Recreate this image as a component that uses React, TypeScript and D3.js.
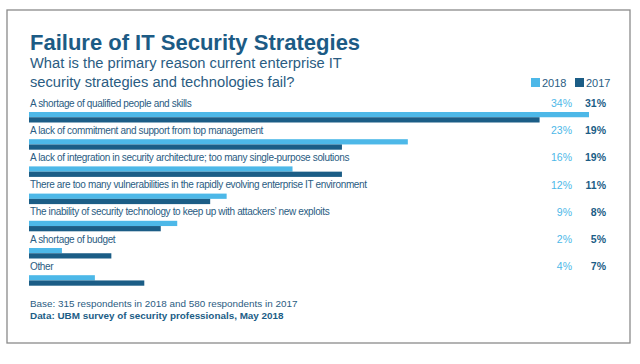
import React from "react"
import * as d3 from "d3"

const categories = [
  "A shortage of qualified people and skills",
  "A lack of commitment and support from top management",
  "A lack of integration in security architecture; too many single-purpose solutions",
  "There are too many vulnerabilities in the rapidly evolving enterprise IT environment",
  "The inability of security technology to keep up with attackers\u2019 new exploits",
  "A shortage of budget",
  "Other",
]
const years = ["2018", "2017"]
const values2018 = [34, 23, 16, 12, 9, 2, 4]
const values2017 = [31, 19, 19, 11, 8, 5, 7]

const light = "#4db8e8"
const dark = "#1b5d86"
const textBlue = "#2a5c82"
const font = "'Liberation Sans', Arial, Helvetica, sans-serif"

const App: React.FC = () => {
  const width = 640
  const height = 364

  const y = d3.scaleBand<string>().domain(categories).range([93, 93 + 27.2 * categories.length])
  const inner = d3.scaleBand<string>().domain(years).range([19, 29.5])
  const x = d3.scaleLinear().domain([0, 34]).range([29, 589])
  const color = d3.scaleOrdinal<string, string>().domain(years).range([light, dark])

  const series = [values2018, values2017]

  return (
    <div style={{ position: "absolute", left: 0, top: 0 }}>
      <svg width={width} height={height} style={{ display: "block", background: "#fff" }} fontFamily={font}>
        <rect x={7} y={10} width={623} height={333} fill="#fff" stroke="#8a8a8a" strokeWidth={1.3} />

        <text x={30} y={50} fontSize={22} fontWeight="bold" fill="#1c5b85">
          Failure of IT Security Strategies
        </text>
        <text x={30} y={68} fontSize={14.7} fill={textBlue}>
          What is the primary reason current enterprise IT
        </text>
        <text x={30} y={87} fontSize={14.7} fill={textBlue}>
          security strategies and technologies fail?
        </text>

        {years.map((yr, i) => (
          <g key={yr} transform={`translate(${i === 0 ? 531 : 575},0)`}>
            <rect x={0} y={78} width={9} height={9} fill={color(yr)} />
            <text x={11} y={87} fontSize={11} fill={textBlue}>
              {yr}
            </text>
          </g>
        ))}

        {categories.map((c, i) => {
          const top = y(c) ?? 0
          return (
            <g key={c}>
              <text x={30} y={top + 13.5} fontSize={10} fill={textBlue} letterSpacing={-0.35}>
                {c}
              </text>
              {years.map((yr, j) => (
                <rect
                  key={yr}
                  x={x(0)}
                  y={top + (inner(yr) ?? 0)}
                  width={x(series[j][i]) - x(0)}
                  height={inner.bandwidth()}
                  fill={color(yr)}
                />
              ))}
              <text x={572} y={top + 14} fontSize={10.5} fill={light} textAnchor="end">
                {values2018[i]}%
              </text>
              <text x={606} y={top + 14} fontSize={10.5} fontWeight="bold" fill={dark} textAnchor="end">
                {values2017[i]}%
              </text>
            </g>
          )
        })}

        <text x={30} y={307} fontSize={9.9} fill={textBlue}>
          Base: 315 respondents in 2018 and 580 respondents in 2017
        </text>
        <text x={30} y={319} fontSize={9.9} fontWeight="bold" fill={dark}>
          Data: UBM survey of security professionals, May 2018
        </text>
      </svg>
    </div>
  )
}

export default App
